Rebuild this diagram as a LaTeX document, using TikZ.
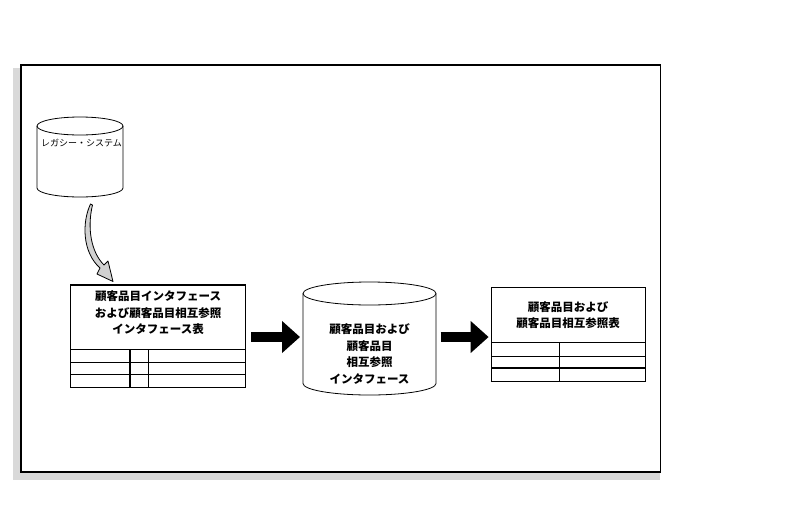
\documentclass[tikz,border=0pt]{standalone}
\usepackage{fontspec}
\newfontfamily\jp{Noto Sans CJK JP}
\usetikzlibrary{arrows.meta}
\begin{document}
\begin{tikzpicture}[x=1pt,y=-1pt,
  lbl/.style={font=\jp\bfseries\fontsize{11.5}{16.5}\selectfont, align=center, inner sep=0},
  smalllbl/.style={font=\jp\fontsize{9}{10}\selectfont, inner sep=0},
  thinline/.style={line width=0.8pt},
  thickline/.style={line width=1.7pt},
  holder/.style={draw=none, inner sep=0, outer sep=0},
  blockarrow/.style={line width=9.5pt, -{Triangle[length=18pt,width=31pt]}},
  curvedarrow/.style={fill=black!18, draw=black, line width=0.8pt, line join=round},
]
\useasboundingbox (0,0) rectangle (786,509);
% frame with shadow
\fill[black!15] (13,68) rectangle (660,480);
\draw[line width=1.5pt, fill=white] (21,65) rectangle (660.5,472);

% legacy system cylinder
\node[holder, minimum width=86, minimum height=80] (legacycyl) at (80,157) {};
\draw[thinline, fill=white] (37,126) -- (37,188)
  arc[start angle=180, end angle=0, x radius=43, y radius=9] -- (123,126);
\draw[thinline] (80,126) ellipse [x radius=43, y radius=9];
\node[smalllbl] (legacy) at (81.5,143) {レガシー・システム};

% curved arrow
\draw[curvedarrow] (90.5,204) .. controls (82,222) and (82,252) .. (100,268)
  -- (97,274) -- (113,281.5) -- (108,261) -- (104,265)
  .. controls (91,252) and (87,228) .. (92.5,205) -- cycle;

% interface table box
\node[draw, thinline, minimum width=175, minimum height=102, inner sep=0] (iface) at (158.2,336) {};
\draw[thickline] (iface.north west) -- (iface.north east);
\draw[thinline] (70.7,349) -- (245.7,349);
\draw[thinline] (70.7,362) -- (245.7,362);
\draw[thinline] (70.7,374) -- (245.7,374);
\draw[thickline] (130,349) -- (130,387);
\draw[thinline] (148,349) -- (148,387);
\node[lbl] (ifacetxt) at (158.2,313) {顧客品目インタフェース\\および顧客品目相互参照\\インタフェース表};

% middle cylinder
\node[holder, minimum width=133, minimum height=113] (xref) at (369.5,338.5) {};
\draw[thinline] (303,293.5) -- (303,383.5)
  arc[start angle=180, end angle=0, x radius=66.5, y radius=11.5] -- (436,293.5);
\draw[thinline] (369.5,293.5) ellipse [x radius=66.5, y radius=11.5];
\node[lbl] (xreftxt) at (369.5,354) {顧客品目および\\顧客品目\\相互参照\\インタフェース};

% result table box
\node[draw, thinline, minimum width=154, minimum height=94, inner sep=0] (tbl) at (568,334) {};
\draw[thickline] (tbl.south west) -- (tbl.south east);
\draw[thinline] (491,342) -- (645,342);
\draw[thinline] (491,356) -- (645,356);
\draw[thickline] (491,368) -- (645,368);
\draw[thinline] (559,342) -- (559,381);
\node[lbl] (tbltxt) at (568,315) {顧客品目および\\顧客品目相互参照表};

% block arrows
\coordinate (a1s) at (251,337);
\coordinate (a2s) at (440.5,337);
\draw[blockarrow] (a1s) -- ([xshift=-3pt]a1s -| xref.west);
\draw[blockarrow] (a2s) -- ([xshift=-2pt]a2s -| tbl.west);
\end{tikzpicture}
\end{document}
